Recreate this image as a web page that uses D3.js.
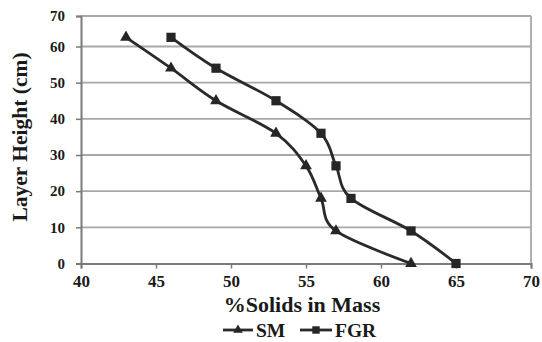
<!DOCTYPE html>
<html><head><meta charset="utf-8">
<script src="https://cdn.jsdelivr.net/npm/d3@7"></script>
<style>body{margin:0;background:#fff}svg{display:block}text{font-family:"Liberation Serif","Times New Roman",serif;font-weight:bold;fill:#1a1a1a}</style>
</head><body><svg id="c" width="542" height="342"></svg>
<script>
const heights = [63, 54, 45, 36, 27, 18, 9, 0];
const smSolids = [43, 46, 49, 53, 55, 56, 57, 62];
const fgrSolids = [46, 49, 53, 56, 57, 58, 62, 65];
const xTicks = [40, 45, 50, 55, 60, 65, 70];
const yTicks = [0, 10, 20, 30, 40, 50, 60, 70];
const seriesNames = ["SM", "FGR"];

const svg = d3.select("#c");
const L = 81, R = 531, B = 263.5;
const x = d3.scaleLinear().domain([40, 70]).range([L, R]);
const y = d3.scaleLinear().domain([0, 60, 70]).range([B, 46.5, 16]);

// grid
svg.append("g").selectAll("line").data(yTicks.filter(d => d > 0)).join("line")
  .attr("x1", L).attr("x2", R).attr("y1", d => y(d)).attr("y2", d => y(d))
  .attr("stroke", "#a8a8a8").attr("stroke-width", 1.8);
// right border
svg.append("line").attr("x1", R).attr("x2", R).attr("y1", y(70)).attr("y2", B)
  .attr("stroke", "#a8a8a8").attr("stroke-width", 1.8);

// axes
const gy = svg.append("g").attr("transform", `translate(${L},0)`)
  .call(d3.axisLeft(y).tickValues(yTicks).tickSize(5).tickPadding(11));
const gx = svg.append("g").attr("transform", `translate(0,${B})`)
  .call(d3.axisBottom(x).tickValues(xTicks).tickSize(5).tickPadding(6));
[gx, gy].forEach(g => {
  g.attr("font-family", null);
  g.select(".domain").attr("stroke", "#7a7a7a").attr("stroke-width", 2);
  g.selectAll(".tick line").attr("stroke", "#7a7a7a").attr("stroke-width", 1.5);
  g.selectAll("text").attr("fill", "#1a1a1a").style("font-family", '"Liberation Serif","Times New Roman",serif').style("font-weight", "bold");
});
gy.selectAll("text").style("font-size", "15px");
gx.selectAll("text").style("font-size", "17px");

// lines
const line = d3.line().x(d => x(d[0])).y(d => y(d[1])).curve(d3.curveCatmullRom.alpha(0));
const sm = smSolids.map((v, i) => [v, heights[i]]);
const fgr = fgrSolids.map((v, i) => [v, heights[i]]);
[sm, fgr].forEach(data => {
  svg.append("path").datum(data).attr("d", line).attr("fill", "none")
    .attr("stroke", "#2a2a2a").attr("stroke-width", 2.8);
});
const tri = d3.symbol().type(d3.symbolTriangle).size(60);
const sq = d3.symbol().type(d3.symbolSquare).size(85);
svg.append("g").selectAll("path").data(sm).join("path")
  .attr("d", tri).attr("transform", d => `translate(${x(d[0])},${y(d[1])})`).attr("fill", "#262626");
svg.append("g").selectAll("path").data(fgr).join("path")
  .attr("d", sq).attr("transform", d => `translate(${x(d[0])},${y(d[1])})`).attr("fill", "#262626");

// titles
svg.append("text").attr("x", 302).attr("y", 312).attr("text-anchor", "middle")
  .style("font-size", "22px").text("%Solids in Mass");
svg.append("text").attr("transform", "translate(27,137) rotate(-90)").attr("text-anchor", "middle")
  .style("font-size", "21.5px").text("Layer Height (cm)");

// legend
const lg = svg.append("g");
const legItems = [{n: seriesNames[0], x1: 223, x2: 253, sym: d3.symbol().type(d3.symbolTriangle).size(40)},
                  {n: seriesNames[1], x1: 300, x2: 332, sym: d3.symbol().type(d3.symbolSquare).size(55)}];
legItems.forEach(it => {
  lg.append("line").attr("x1", it.x1).attr("x2", it.x2).attr("y1", 330).attr("y2", 330)
    .attr("stroke", "#2a2a2a").attr("stroke-width", 2.8);
  lg.append("path").attr("d", it.sym).attr("transform", `translate(${(it.x1 + it.x2) / 2},330)`).attr("fill", "#262626");
  lg.append("text").attr("x", it.x2 + 3).attr("y", 337).style("font-size", "19.5px").text(it.n);
});
</script></body></html>
